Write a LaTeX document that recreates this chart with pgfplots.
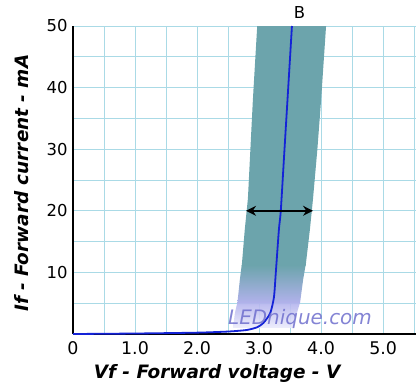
\documentclass[border=0pt]{standalone}
\usepackage{fontspec}
\setmainfont{DejaVu Sans}
\usepackage{pgfplots}
\pgfplotsset{compat=1.18}
\usetikzlibrary{arrows.meta}
\definecolor{bandteal}{RGB}{108,164,172}
\definecolor{lav}{RGB}{178,178,236}
\definecolor{lavpale}{RGB}{236,236,252}
\definecolor{gridc}{RGB}{170,218,230}
\definecolor{curveblue}{RGB}{20,35,215}
\definecolor{wm}{RGB}{110,110,205}
\begin{document}
\begin{tikzpicture}
\begin{axis}[
  scale only axis, width=343bp, height=308bp,
  xmin=0, xmax=5.53, ymin=0, ymax=50,
  axis x line=bottom, axis y line=left,
  axis line style={line width=2.4bp, -},
  xtick={0,1,2,3,4,5}, xticklabels={0,1.0,2.0,3.0,4.0,5.0},
  minor xtick={0.5,1.5,2.5,3.5,4.5,5.5},
  ytick={10,20,30,40,50}, minor ytick={5,15,25,35,45},
  grid=both,
  major grid style={gridc, line width=1bp},
  minor grid style={gridc, line width=1bp},
  major tick length=0pt, minor tick length=0pt,
  tick label style={black},
  /pgf/number format/assume math mode=true,
  xticklabel style={yshift=-4bp, font=\fontsize{17.5}{17.5}\selectfont},
  yticklabel style={xshift=-2bp, font=\fontsize{16.5}{16.5}\selectfont},
  xlabel={\bfseries\itshape Vf - Forward voltage - V},
  ylabel={\bfseries\itshape If - Forward current - mA},
  label style={font=\fontsize{18.5}{18.5}\selectfont\bfseries\itshape},
  xlabel style={at={(axis description cs:0.42,-0.127)}, anchor=center},
  ylabel style={at={(axis description cs:-0.149,0.49)}, anchor=center},
  clip=false,
]
\coordinate (O) at (rel axis cs:0,0);
% band, upper solid part
\addplot[draw=none, fill=bandteal] coordinates {
  (2.72,11) (2.77,17) (2.82,22) (2.86,30) (2.90,38) (2.97,50)
  (4.08,50) (4.00,38) (3.94,30) (3.87,22) (3.82,17) (3.75,11)
} -- cycle;
% band, fading part
\addplot[draw=none, top color=bandteal, bottom color=lav] coordinates {
  (2.65,5) (2.69,8.8) (2.72,11.2) (3.75,11.2) (3.71,8.8) (3.66,5)
} -- cycle;
\addplot[draw=none, top color=lav, bottom color=lavpale, fill opacity=0.9] coordinates {
  (2.58,1) (2.61,3.4) (2.65,5.1) (3.66,5.1) (3.61,3.4) (3.53,1)
} -- cycle;
% curve
\addplot[curveblue, line width=1.8bp, smooth, tension=0.4] coordinates {
  (0,0) (1.0,0.08) (2.0,0.22) (2.5,0.4) (2.8,0.65) (2.97,1.1)
  (3.07,1.8) (3.18,3.4) (3.24,6) (3.27,10) (3.32,17) (3.35,20)
  (3.41,30) (3.47,40) (3.53,50)
};
% arrow
\addplot[black, line width=1.5bp, {Stealth[length=10bp,width=10bp]}-{Stealth[length=10bp,width=10bp]}] coordinates {(2.79,20) (3.87,20)};
\node[font=\fontsize{16.5}{16.5}\selectfont] at (axis cs:3.65,52.2) {B};
\node[font=\fontsize{20}{20}\selectfont\itshape, text=wm, opacity=0.85] at (axis cs:3.66,2.5) {LEDnique.com};
\end{axis}
\pgfresetboundingbox
\path[use as bounding box] (O) ++(-73bp,-55bp) rectangle ++(416bp,389bp);
\end{tikzpicture}
\end{document}
